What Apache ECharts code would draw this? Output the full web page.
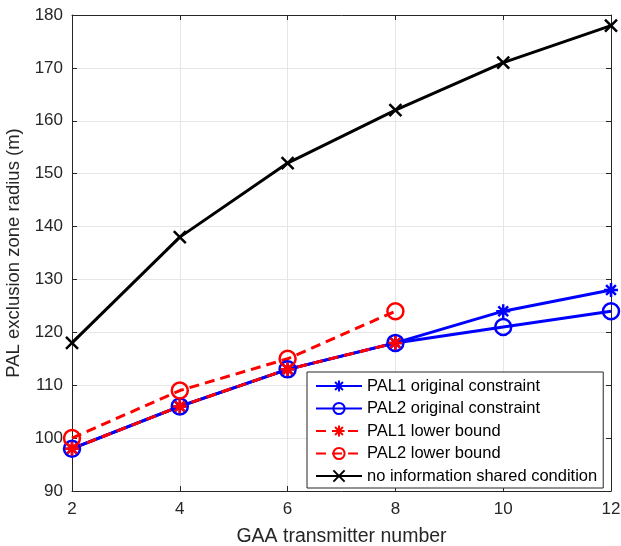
<!DOCTYPE html>
<html>
<head>
    <meta charset="utf-8">
    <title>PAL exclusion zone</title>
</head>
<body style="margin:0">
<div id="main" style="width: 621px;height:546px;"></div>
<script src="https://cdn.jsdelivr.net/npm/echarts@6/dist/echarts.min.js"></script>
<script type="text/javascript">
// data
var gaaNum = [2, 4, 6, 8, 10, 12];
var pal1Orig = [98, 106, 113, 118, 124, 128];
var pal2Orig = [98, 106, 113, 118, 121, 124];
var pal1Lower = [98, 106, 113, 118];
var pal2Lower = [100, 109, 115, 124];
var noInfo = [118, 138, 152, 162, 171, 178];

var xTicks = [2, 4, 6, 8, 10, 12];
var yTicks = [90, 100, 110, 120, 130, 140, 150, 160, 170, 180];

function pairs(ys) {
    return ys.map(function (v, i) { return [gaaNum[i], v]; });
}

// marker shapes (matlab style, unfilled)
var starPath = 'path://M0,-1L0,1M-1,0L1,0M-0.7,-0.7L0.7,0.7M-0.7,0.7L0.7,-0.7';
var crossPath = 'path://M-1,-1L1,1M-1,1L1,-1';
var circlePath = 'path://M1,0A1,1,0,1,1,-1,0A1,1,0,1,1,1,0Z';

var font = 'Liberation Sans, Arial, sans-serif';

function mkSeries(name, ys, color, symbol, size, dashed) {
    return {
        name: name,
        type: 'line',
        data: pairs(ys),
        symbol: symbol,
        symbolSize: size,
        showAllSymbol: true,
        lineStyle: { color: color, width: 3, type: dashed ? [10, 6] : 'solid' },
        itemStyle: { color: 'none', borderColor: color, borderWidth: 2.5 },
        emphasis: { disabled: true },
        animation: false
    };
}

var myChart = echarts.init(document.getElementById('main'));

var axisLine = { show: true, lineStyle: { color: '#262626', width: 1 } };
var axisTick = { show: true, inside: true, length: 5, lineStyle: { color: '#262626' } };

var option = {
    backgroundColor: '#fff',
    textStyle: { fontFamily: font },
    grid: { left: 72, right: 10, top: 15, bottom: 55, outerBoundsMode: 'none', containLabel: false },
    legend: {
        orient: 'vertical',
        left: 307,
        top: 372,
        backgroundColor: '#fff',
        borderColor: '#262626',
        borderWidth: 1,
        padding: [5, 6, 3, 8],
        itemWidth: 46,
        itemHeight: 14,
        itemGap: 4.5,
        textStyle: { fontSize: 16.5, color: '#000', fontFamily: font, lineHeight: 18 },
        data: ['PAL1 original constraint', 'PAL2 original constraint', 'PAL1 lower bound', 'PAL2 lower bound', 'no information shared condition']
    },
    xAxis: [{
        type: 'value', min: 2, max: 12, interval: 2,
        name: 'GAA transmitter number', nameLocation: 'middle', nameGap: 36,
        nameTextStyle: { fontSize: 19.5, color: '#262626', fontFamily: font },
        axisLabel: { fontSize: 17, color: '#262626', margin: 10, fontFamily: font },
        axisLine: axisLine, axisTick: axisTick,
        splitLine: { show: true, lineStyle: { color: '#e6e6e6' } }
    }, {
        type: 'value', min: 2, max: 12, interval: 2, position: 'top',
        axisLabel: { show: false },
        axisLine: axisLine, axisTick: axisTick,
        splitLine: { show: false }
    }],
    yAxis: [{
        type: 'value', min: 90, max: 180, interval: 10,
        name: 'PAL exclusion zone radius (m)', nameLocation: 'middle', nameGap: 44,
        nameTextStyle: { fontSize: 18.5, color: '#262626', fontFamily: font },
        axisLabel: { fontSize: 17, color: '#262626', margin: 9, fontFamily: font },
        axisLine: axisLine, axisTick: axisTick,
        splitLine: { show: true, lineStyle: { color: '#e6e6e6' } }
    }, {
        type: 'value', min: 90, max: 180, interval: 10, position: 'right',
        axisLabel: { show: false },
        axisLine: axisLine, axisTick: axisTick,
        splitLine: { show: false }
    }],
    series: [
        mkSeries('PAL1 original constraint', pal1Orig, '#0000ff', starPath, 14, false),
        mkSeries('PAL2 original constraint', pal2Orig, '#0000ff', circlePath, 16, false),
        mkSeries('PAL1 lower bound', pal1Lower, '#ff0000', starPath, 14, true),
        mkSeries('PAL2 lower bound', pal2Lower, '#ff0000', circlePath, 16, true),
        mkSeries('no information shared condition', noInfo, '#000000', crossPath, 12, false)
    ]
};

myChart.setOption(option);
</script>
</body>
</html>
